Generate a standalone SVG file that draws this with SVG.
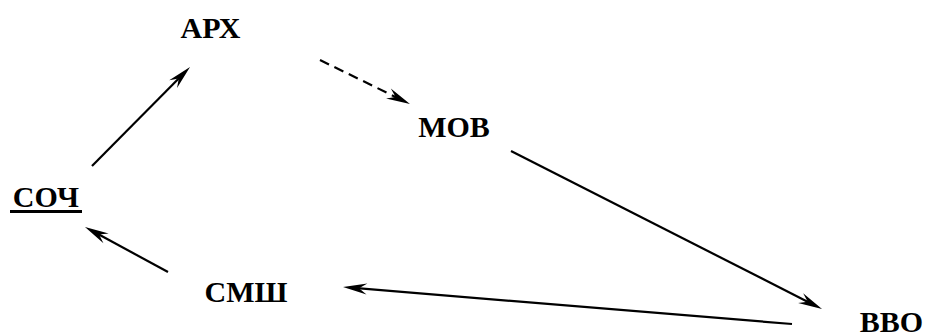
<svg xmlns="http://www.w3.org/2000/svg" width="925" height="336" viewBox="0 0 925 336">
<style>
  .lbl { font-family: "Liberation Serif", "Times New Roman", serif; font-weight: bold; font-size: 30px; fill: #000; text-anchor: middle; }
  .edge { stroke: #000; stroke-width: 2.2; fill: none; marker-end: url(#ah); }
  .dash { stroke-dasharray: 10 6; }
</style>
<defs>
  <marker id="ah" markerUnits="userSpaceOnUse" orient="auto" refX="0" refY="0" markerWidth="40" markerHeight="20" viewBox="-20 -10 40 20" overflow="visible">
    <path d="M8,0 L-16,-5.5 L-8,0 L-16,5.5 Z" fill="#000"/>
  </marker>
</defs>
<rect width="925" height="336" fill="#fff"/>
<g id="connectors">
  <line class="edge" x1="92" y1="166" x2="184.4" y2="72.7"/>
  <line class="edge dash" x1="320" y1="60" x2="402.8" y2="100.5"/>
  <line class="edge" x1="511" y1="151" x2="814.9" y2="305.4"/>
  <line class="edge" x1="792" y1="324" x2="351" y2="287.7"/>
  <line class="edge" x1="168" y1="272" x2="92" y2="230.8"/>
</g>
<g id="node-APX"><text class="lbl" x="210.5" y="38">АРХ</text></g>
<g id="node-MOB"><text class="lbl" x="454" y="137">МОВ</text></g>
<g id="node-SOCH"><text class="lbl" x="46" y="207">СОЧ</text><rect x="10" y="210" width="72" height="3" fill="#000"/></g>
<g id="node-SMSH"><text class="lbl" x="246" y="302">СМШ</text></g>
<g id="node-BBO"><text class="lbl" x="891.5" y="332">ВВО</text></g>
</svg>
